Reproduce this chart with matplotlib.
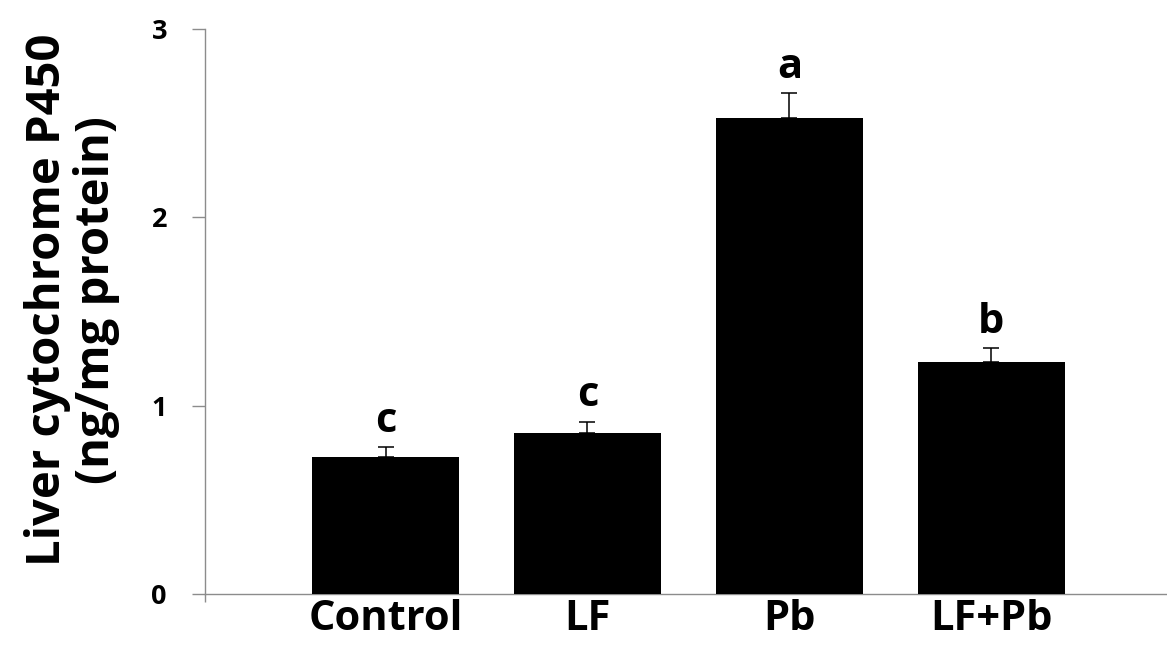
import matplotlib
matplotlib.use("Agg")
import matplotlib.pyplot as plt
import numpy as np

categories = ["Control", "LF", "Pb", "LF+Pb"]
values = [0.73, 0.855, 2.53, 1.23]
errors = [0.05, 0.06, 0.13, 0.075]
letters = ["c", "c", "a", "b"]
yticks = [0, 1, 2, 3]

plt.rcParams['font.family'] = ['Open Sans', 'DejaVu Sans']

fig = plt.figure(figsize=(11.67, 6.56), dpi=100)
ax = fig.add_axes([205/1167, 62/656, 1 - 205/1167, (594-29)/656])

x = np.arange(len(categories))
ax.bar(x, values, width=0.73, color='black', zorder=3)
ax.errorbar(x, values, yerr=[np.zeros(len(errors)), errors], fmt='none',
            ecolor='black', elinewidth=1.1, capsize=5.5, capthick=1.1, zorder=4)

for xi, v, e, t in zip(x, values, errors, letters):
    ax.annotate(t, (xi, v + e), xytext=(0, 11), textcoords='offset points',
                ha='center', va='baseline', fontsize=30, fontweight='bold')

ax.set_xlim(-0.894, 3.87)
ax.set_ylim(0, 3)
ax.set_yticks(yticks)
ax.set_yticklabels([str(t) for t in yticks], fontsize=19.5, fontweight='bold')
ax.set_xticks(x)
ax.set_xticklabels(categories, fontsize=30, fontweight='bold')
ax.tick_params(axis='x', length=0, pad=3.3)
ax.set_xticks([-0.894], minor=True)
ax.tick_params(axis='x', which='minor', length=6, color='#8c8c8c', width=1)
ax.tick_params(axis='y', length=9.4, color='#8c8c8c', width=1, pad=18, direction='out')

for s in ['top', 'right']:
    ax.spines[s].set_visible(False)
for s in ['left', 'bottom']:
    ax.spines[s].set_color('#8c8c8c')
    ax.spines[s].set_linewidth(1)

fig.text(72/1167, 1 - 300/656, "Liver cytochrome P450\n(ng/mg protein)",
         rotation=90, ha='center', va='center', multialignment='center',
         fontsize=34, fontweight='bold', linespacing=1.05)

fig.savefig("out.png", dpi=100)
